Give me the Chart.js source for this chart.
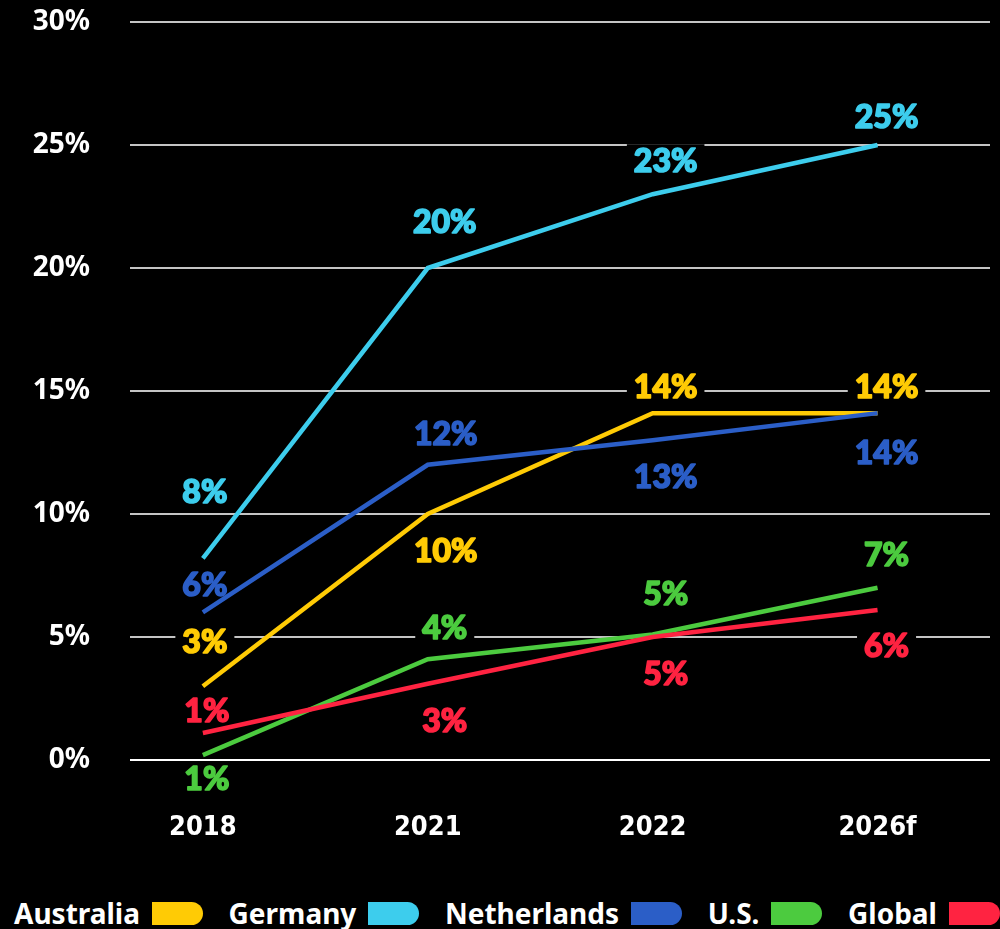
<!DOCTYPE html>
<html>
<head>
<meta charset="utf-8">
<script src="https://cdn.jsdelivr.net/npm/chart.js@4/dist/chart.umd.min.js"></script>
<style>
  html, body { margin: 0; padding: 0; background: #000; }
  #wrap { position: relative; width: 1000px; height: 929px; background: #000; overflow: hidden; }
  #chartBox { position: absolute; left: 0; top: 0; width: 1000px; height: 870px; }
  #legend {
    position: absolute; left: 14px; right: 0; top: 895px; height: 36px;
    display: flex; justify-content: space-between; align-items: center;
    font-family: "Noto Sans", sans-serif; font-weight: 700; font-size: 28px; color: #fff;
  }
  .item { display: flex; align-items: center; white-space: nowrap; }
  .swatch { display: inline-block; width: 51px; height: 23px; margin-left: 12px; border-radius: 0 12px 12px 0; }
</style>
</head>
<body>
<div id="wrap">
  <div id="chartBox"><canvas id="trendChart" width="1000" height="870"></canvas></div>
  <div id="legend"></div>
</div>
<script>
// categories and series values (percent)
const categories = ['2018', '2021', '2022', '2026f']
const australia = [3.0, 10.0, 14.1, 14.1]
const germany = [8.2, 20.0, 23.0, 25.0]
const netherlands = [6.0, 12.0, 13.0, 14.1]
const us = [0.2, 4.1, 5.1, 7.0]
const global = [1.1, 3.1, 5.0, 6.1]

// printed value labels
const australiaLabels = [3, 10, 14, 14]
const germanyLabels = [8, 20, 23, 25]
const netherlandsLabels = [6, 12, 13, 14]
const usLabels = [1, 4, 5, 7]
const globalLabels = [1, 3, 5, 6]

const yTicks = [0, 5, 10, 15, 20, 25, 30]

function toPoints(values) {
  return values.map(function(v, i) { return { x: i, y: v } })
}

function makeSet(name, values, labels, colour, order, offsets) {
  return {
    label: name,
    data: toPoints(values),
    pointLabels: labels,
    labelOffsets: offsets,
    borderColor: colour,
    backgroundColor: colour,
    borderWidth: 4.5,
    pointRadius: 0,
    pointHoverRadius: 0,
    tension: 0,
    fill: false,
    order: order
  }
}

const labelFont = '900 32px Lato, "Noto Sans", sans-serif'

// label boxes go under the lines (they only hide the grid), text goes on top
const valueLabels = {
  id: 'valueLabels',
  beforeDatasetsDraw(chart) {
    const ctx = chart.ctx
    ctx.save()
    ctx.font = labelFont
    chart.data.datasets.forEach(function(ds, di) {
      chart.getDatasetMeta(di).data.forEach(function(pt, i) {
        const off = ds.labelOffsets[i]
        const text = ds.pointLabels[i] + '%'
        const w = ctx.measureText(text).width
        ctx.fillStyle = '#000'
        ctx.fillRect(pt.x + off[0] - w / 2 - 7, pt.y + off[1] - 15, w + 14, 30)
      })
    })
    ctx.restore()
  },
  afterDatasetsDraw(chart) {
    const ctx = chart.ctx
    ctx.save()
    ctx.font = labelFont
    ctx.textAlign = 'center'
    ctx.textBaseline = 'middle'
    ctx.lineWidth = 1.6
    ctx.lineJoin = 'round'
    chart.data.datasets.forEach(function(ds, di) {
      chart.getDatasetMeta(di).data.forEach(function(pt, i) {
        const off = ds.labelOffsets[i]
        const text = ds.pointLabels[i] + '%'
        ctx.fillStyle = ds.borderColor
        ctx.strokeStyle = ds.borderColor
        ctx.fillText(text, pt.x + off[0], pt.y + off[1] + 2)
        ctx.strokeText(text, pt.x + off[0], pt.y + off[1] + 2)
      })
    })
    ctx.restore()
  }
}

const datasets = [
  makeSet('Australia', australia, australiaLabels, '#ffcb05', 5, [[2, -46], [18, 36], [13, -27], [9, -27]]),
  makeSet('Germany', germany, germanyLabels, '#3dcded', 4, [[2, -68], [17, -47], [13, -35], [9, -29]]),
  makeSet('Netherlands', netherlands, netherlandsLabels, '#2b5ec7', 3, [[2, -29], [18, -32], [13, 35], [9, 39]]),
  makeSet('U.S.', us, usLabels, '#4ccb3f', 2, [[4, 23], [17, -32], [13, -42], [9, -34]]),
  makeSet('Global', global, globalLabels, '#ff2341', 1, [[4, -23], [17, 36], [13, 36], [9, 35]])
]

const ctx = document.getElementById('trendChart').getContext('2d')
const trendChart = new Chart(ctx, {
  type: 'line',
  data: { datasets: datasets },
  plugins: [valueLabels],
  options: {
    responsive: false,
    animation: false,
    layout: { padding: { left: 0, right: 10, top: 22, bottom: 0 } },
    plugins: {
      legend: { display: false },
      tooltip: { enabled: false }
    },
    scales: {
      x: {
        type: 'linear',
        min: -0.324,
        max: 3.5,
        afterBuildTicks: function(axis) {
          axis.ticks = categories.map(function(c, i) { return { value: i } })
        },
        afterFit: function(axis) {
          axis.height = 110
          axis.paddingLeft = 0
          axis.paddingRight = 0
        },
        grid: { display: false, drawTicks: false },
        border: { display: false },
        ticks: {
          color: '#fff',
          padding: 52,
          maxRotation: 0,
          font: { family: '"Liberation Sans Narrow", "DejaVu Sans Condensed", sans-serif', weight: 'bold', size: 27 },
          callback: function(value) { return categories[value] }
        }
      },
      y: {
        min: 0,
        max: 30,
        afterBuildTicks: function(axis) {
          axis.ticks = yTicks.map(function(v) { return { value: v } })
        },
        afterFit: function(axis) {
          axis.width = 130
          axis.paddingTop = 0
          axis.paddingBottom = 0
        },
        grid: {
          drawTicks: false,
          lineWidth: 2,
          color: function(c) { return c.tick.value === 0 ? '#ffffff' : '#c4c4c4' }
        },
        border: { display: false },
        ticks: {
          color: '#fff',
          padding: 40,
          font: { family: '"Noto Sans", sans-serif', weight: 'bold', size: 28 },
          callback: function(value) { return value + '%' }
        }
      }
    }
  }
})

// legend: name first, then a rounded colour tab
const legendEl = document.getElementById('legend')
trendChart.data.datasets.forEach(function(ds) {
  const item = document.createElement('div')
  item.className = 'item'
  const name = document.createElement('span')
  name.textContent = ds.label
  const sw = document.createElement('span')
  sw.className = 'swatch'
  sw.style.background = ds.borderColor
  item.appendChild(name)
  item.appendChild(sw)
  legendEl.appendChild(item)
})
</script>
</body>
</html>
